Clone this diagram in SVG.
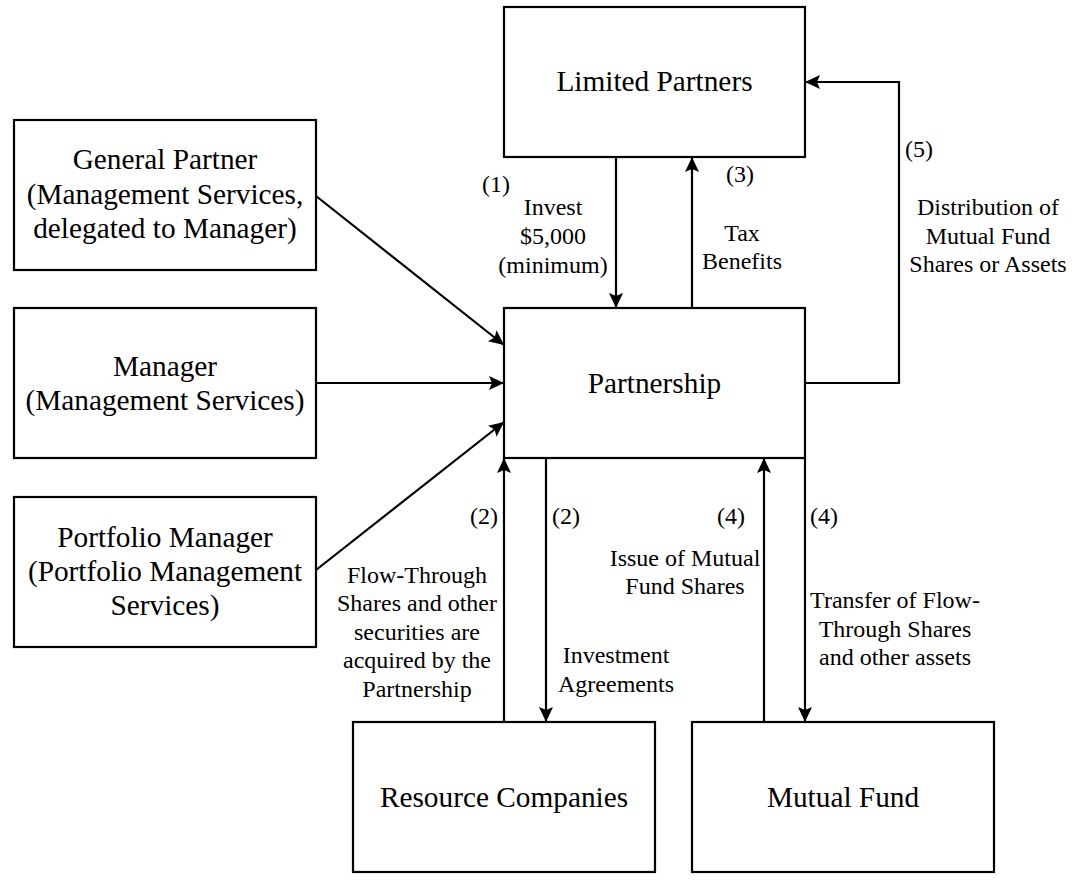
<svg xmlns="http://www.w3.org/2000/svg" width="1078" height="882" viewBox="0 0 1078 882">
<style>
.box{fill:#fff;stroke:#000;stroke-width:2.2}
.nt{font-family:"Liberation Serif","Times New Roman",serif;font-size:29.3px;fill:#000;text-anchor:middle}
.lb{font-family:"Liberation Serif","Times New Roman",serif;font-size:24px;fill:#000;text-anchor:middle}
.st{text-anchor:start}
.en{text-anchor:end}
.cn{fill:none;stroke:#000;stroke-width:2.2;marker-end:url(#ah)}
</style>
<defs>
<marker id="ah" markerUnits="userSpaceOnUse" markerWidth="16" markerHeight="16" refX="15" refY="7" orient="auto">
<path d="M0,0 L15,7 L0,14 L3,7 Z" fill="#000"/>
</marker>
</defs>
<rect width="1078" height="882" fill="#fff"/>
<g id="connectors">
<path class="cn" d="M316,196 L504,345"/>
<path class="cn" d="M316,383 L504,383"/>
<path class="cn" d="M316,570 L504,422"/>
<path class="cn" d="M616,157 L616,308"/>
<path class="cn" d="M692,308 L692,157"/>
<path class="cn" d="M805,383 H899 V82 H805"/>
<path class="cn" d="M504,722 V458"/>
<path class="cn" d="M546,458 V722"/>
<path class="cn" d="M764,722 V458"/>
<path class="cn" d="M805,458 V722"/>
</g>
<g id="labels">
<text class="lb st" x="482" y="192">(1)</text>
<text class="lb" x="553" y="215">Invest</text>
<text class="lb" x="553" y="244">$5,000</text>
<text class="lb" x="553" y="273">(minimum)</text>
<text class="lb st" x="726" y="182">(3)</text>
<text class="lb" x="742" y="241">Tax</text>
<text class="lb" x="742" y="269">Benefits</text>
<text class="lb st" x="905" y="157">(5)</text>
<text class="lb" x="988" y="215">Distribution of</text>
<text class="lb" x="988" y="244">Mutual Fund</text>
<text class="lb" x="988" y="272">Shares or Assets</text>
<text class="lb en" x="498" y="524">(2)</text>
<text class="lb st" x="552" y="524">(2)</text>
<text class="lb en" x="745" y="524">(4)</text>
<text class="lb st" x="810" y="524">(4)</text>
<text class="lb" x="417" y="583">Flow-Through</text>
<text class="lb" x="417" y="611">Shares and other</text>
<text class="lb" x="417" y="640">securities are</text>
<text class="lb" x="417" y="668">acquired by the</text>
<text class="lb" x="417" y="697">Partnership</text>
<text class="lb" x="685" y="566">Issue of Mutual</text>
<text class="lb" x="685" y="594">Fund Shares</text>
<text class="lb" x="616" y="663">Investment</text>
<text class="lb" x="616" y="692">Agreements</text>
<text class="lb" x="895" y="608">Transfer of Flow-</text>
<text class="lb" x="895" y="637">Through Shares</text>
<text class="lb" x="895" y="665">and other assets</text>
</g>
<g id="general-partner">
<rect class="box" x="14" y="120" width="302" height="150"/>
<text class="nt" x="165" y="169">General Partner</text>
<text class="nt" x="165" y="204">(Management Services,</text>
<text class="nt" x="165" y="238">delegated to Manager)</text>
</g>
<g id="manager">
<rect class="box" x="14" y="308" width="302" height="150"/>
<text class="nt" x="165" y="376">Manager</text>
<text class="nt" x="165" y="410">(Management Services)</text>
</g>
<g id="portfolio-manager">
<rect class="box" x="14" y="497" width="302" height="150"/>
<text class="nt" x="165" y="547">Portfolio Manager</text>
<text class="nt" x="165" y="581">(Portfolio Management</text>
<text class="nt" x="165" y="615">Services)</text>
</g>
<g id="limited-partners">
<rect class="box" x="504" y="7" width="301" height="150"/>
<text class="nt" x="654.5" y="91">Limited Partners</text>
</g>
<g id="partnership">
<rect class="box" x="504" y="308" width="301" height="150"/>
<text class="nt" x="654.5" y="393">Partnership</text>
</g>
<g id="resource-companies">
<rect class="box" x="353" y="722" width="302" height="150"/>
<text class="nt" x="504" y="807">Resource Companies</text>
</g>
<g id="mutual-fund">
<rect class="box" x="692" y="722" width="302" height="150"/>
<text class="nt" x="843" y="807">Mutual Fund</text>
</g>
</svg>
